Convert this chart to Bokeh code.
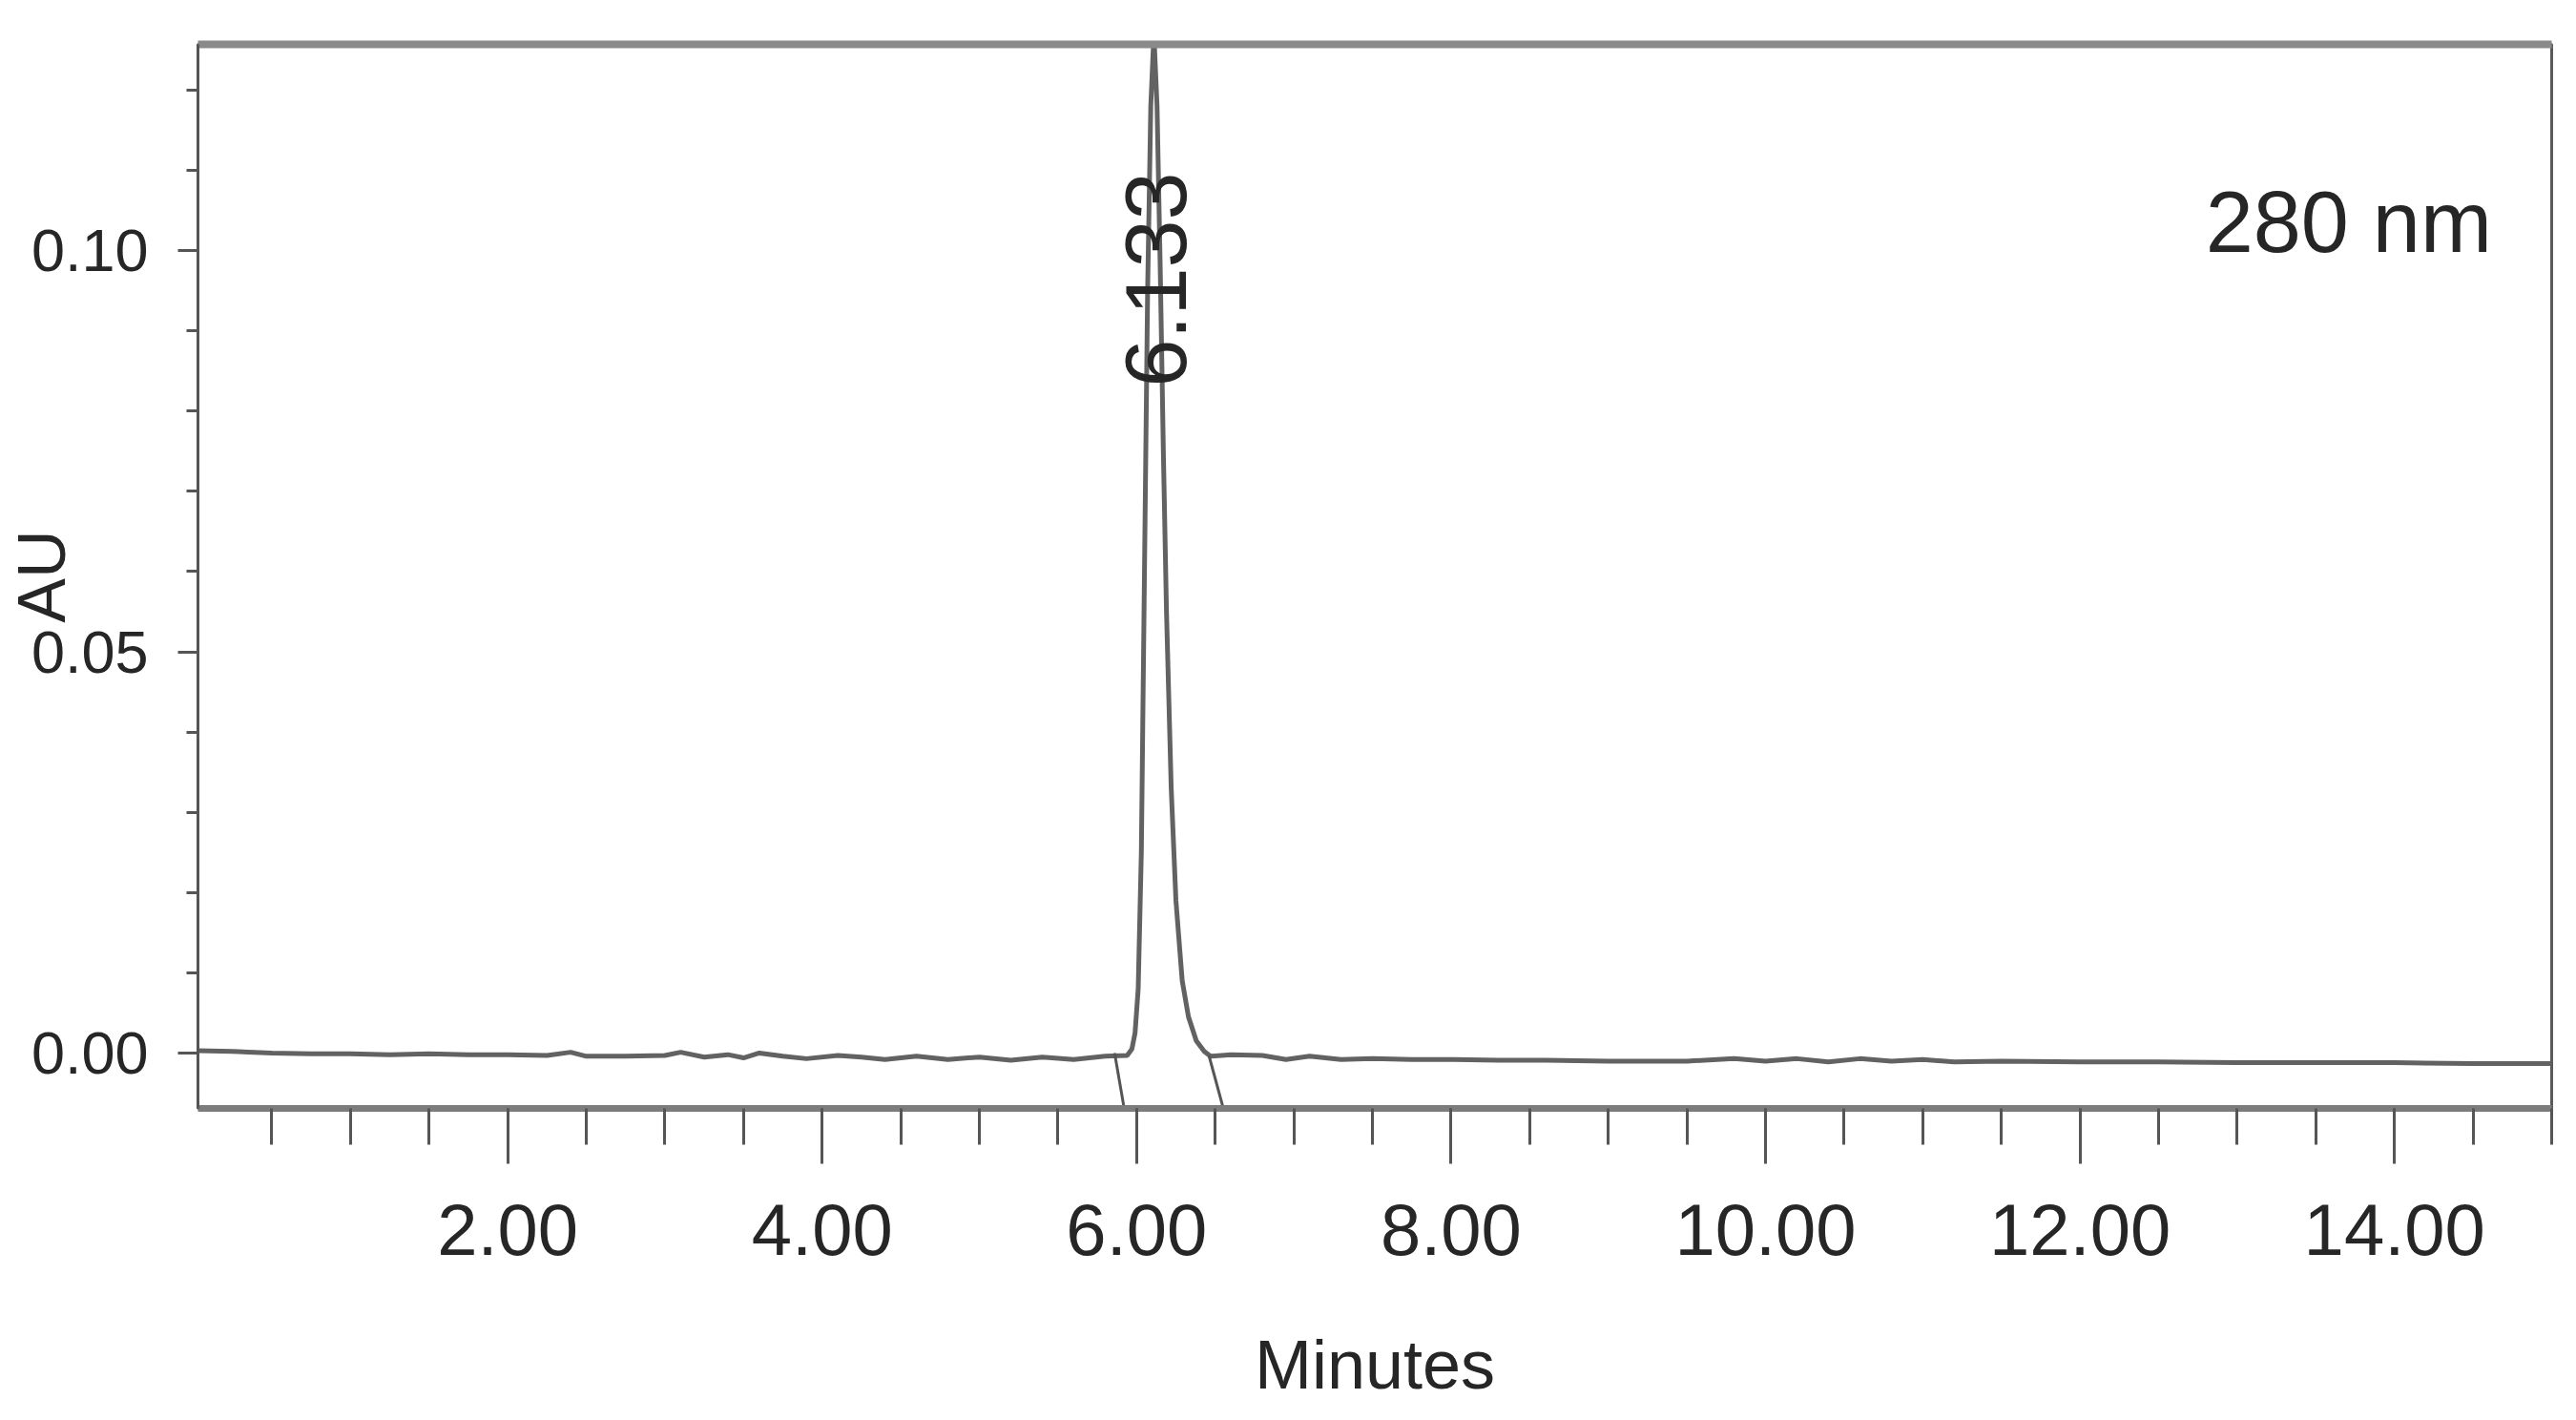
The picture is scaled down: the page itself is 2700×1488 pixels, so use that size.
import math
from bokeh.plotting import figure
from bokeh.models import (Range1d, LinearAxis, FixedTicker, SingleIntervalTicker,
                          Label, NumeralTickFormatter, ColumnDataSource)
from bokeh.embed import file_html
from bokeh.resources import INLINE

# ---------------- data ----------------
time_min = [0.03, 0.25, 0.5, 0.75, 1.0, 1.25, 1.5, 1.75, 2.0, 2.25, 2.4, 2.5, 2.75,
            3.0, 3.1, 3.25, 3.4, 3.5, 3.6, 3.75, 3.9, 4.1, 4.25, 4.4, 4.6, 4.8,
            5.0, 5.2, 5.4, 5.6, 5.8, 5.94, 5.97, 5.99, 6.01, 6.03, 6.05, 6.07,
            6.09, 6.11, 6.13, 6.15, 6.17, 6.19, 6.22, 6.25, 6.29, 6.33, 6.38,
            6.43, 6.47, 6.6, 6.8, 6.95, 7.1, 7.3, 7.5, 7.75, 8.0, 8.3, 8.6, 9.0,
            9.5, 9.8, 10.0, 10.2, 10.4, 10.6, 10.8, 11.0, 11.2, 11.5, 12.0, 12.5,
            13.0, 13.5, 14.0, 14.5, 15.0]
absorbance_au = [0.0003, 0.0002, 0.0000, -0.0001, -0.0001, -0.0002, -0.0001, -0.0002,
                 -0.0002, -0.0003, 0.0001, -0.0004, -0.0004, -0.0003, 0.0001, -0.0005,
                 -0.0002, -0.0006, 0.0000, -0.0004, -0.0007, -0.0003, -0.0005, -0.0008,
                 -0.0004, -0.0008, -0.0005, -0.0009, -0.0005, -0.0008, -0.0004, -0.0003,
                 0.0005, 0.0025, 0.008, 0.025, 0.060, 0.095, 0.118, 0.127, 0.118,
                 0.098, 0.075, 0.055, 0.033, 0.019, 0.009, 0.0045, 0.0015, 0.0002,
                 -0.0004, -0.0002, -0.0003, -0.0008, -0.0004, -0.0008, -0.0007, -0.0008,
                 -0.0008, -0.0009, -0.0009, -0.0010, -0.0010, -0.0007, -0.0010, -0.0007,
                 -0.0011, -0.0007, -0.0010, -0.0008, -0.0011, -0.0010, -0.0011, -0.0011,
                 -0.0012, -0.0012, -0.0012, -0.0013, -0.0013]

peak_rt = 6.133            # retention time printed on the peak
peak_apex_time = 6.11      # where the apex sits on the time axis
peak_label_start_au = 0.083

# integration marks (peak start / end drop lines)
mark_t0 = [5.86, 6.46]
mark_y0 = [0.0, -0.0003]
mark_t1 = [5.92, 6.55]
mark_y1 = [-0.0068, -0.0068]

x_start, x_end = 0.03, 15.0
y_start, y_end = -0.0069, 0.1257
x_major_interval = 2.0
y_major_interval = 0.05
wavelength_text = "280 nm"
wavelength_pos = (14.62, 0.1035)

# ---------------- figure ----------------
TXT = "#262626"
FONT = "Liberation Sans"

p = figure(width=2684, height=1472, output_backend="svg", toolbar_location=None,
           x_range=Range1d(x_start, x_end), y_range=Range1d(y_start, y_end),
           x_axis_location=None, y_axis_location=None,
           min_border_left=207, min_border_right=10, min_border_top=46,
           min_border_bottom=310)
p.background_fill_color = "white"
p.border_fill_color = "white"
p.grid.visible = False
p.outline_line_color = "#5a5a5a"
p.outline_line_width = 3

xaxis = LinearAxis(ticker=SingleIntervalTicker(interval=x_major_interval, num_minor_ticks=4),
                   formatter=NumeralTickFormatter(format="0.00"),
                   axis_label="Minutes")
yaxis = LinearAxis(ticker=SingleIntervalTicker(interval=y_major_interval, num_minor_ticks=5),
                   formatter=NumeralTickFormatter(format="0.00"),
                   axis_label="AU")
for ax in (xaxis, yaxis):
    ax.major_tick_in = 0
    ax.minor_tick_in = 0
    ax.major_tick_line_color = "#555555"
    ax.minor_tick_line_color = "#555555"
    ax.major_tick_line_width = 3
    ax.minor_tick_line_width = 3
    ax.major_label_text_color = TXT
    ax.major_label_text_font = FONT
    ax.axis_label_text_color = TXT
    ax.axis_label_text_font = FONT
    ax.axis_label_text_font_style = "normal"

xaxis.axis_line_color = "#7c7c7c"
xaxis.axis_line_width = 7
xaxis.major_tick_out = 58
xaxis.minor_tick_out = 38
xaxis.major_label_standoff = 42
xaxis.major_label_text_font_size = "76px"
xaxis.axis_label_text_font_size = "72px"
xaxis.axis_label_standoff = 72

yaxis.axis_line_color = "#555555"
yaxis.axis_line_width = 3
yaxis.major_tick_out = 21
yaxis.minor_tick_out = 12
yaxis.major_label_standoff = 31
yaxis.major_label_text_font_size = "63px"
yaxis.axis_label_text_font_size = "70px"
yaxis.axis_label_standoff = -53

top_axis = LinearAxis(ticker=FixedTicker(ticks=[]), axis_line_color="#8a8a8a",
                      axis_line_width=8, major_label_text_font_size="0px")

p.add_layout(xaxis, "below")
p.add_layout(yaxis, "left")
p.add_layout(top_axis, "above")

src = ColumnDataSource(dict(t=time_min, au=absorbance_au))
p.line("t", "au", source=src, line_color="#626262", line_width=5)

marks = ColumnDataSource(dict(x0=mark_t0, y0=mark_y0, x1=mark_t1, y1=mark_y1))
p.segment("x0", "y0", "x1", "y1", source=marks, line_color="#555555", line_width=3)

p.add_layout(Label(x=peak_apex_time, y=peak_label_start_au, text=f"{peak_rt:.3f}",
                   angle=math.pi / 2, text_align="left", text_baseline="middle",
                   x_offset=2, text_font=FONT, text_font_size="90px",
                   text_color=TXT))
p.add_layout(Label(x=wavelength_pos[0], y=wavelength_pos[1], text=wavelength_text,
                   text_align="right", text_baseline="alphabetic",
                   text_font=FONT, text_font_size="90px", text_color=TXT))

open("out.html", "w").write(file_html(p, INLINE))
